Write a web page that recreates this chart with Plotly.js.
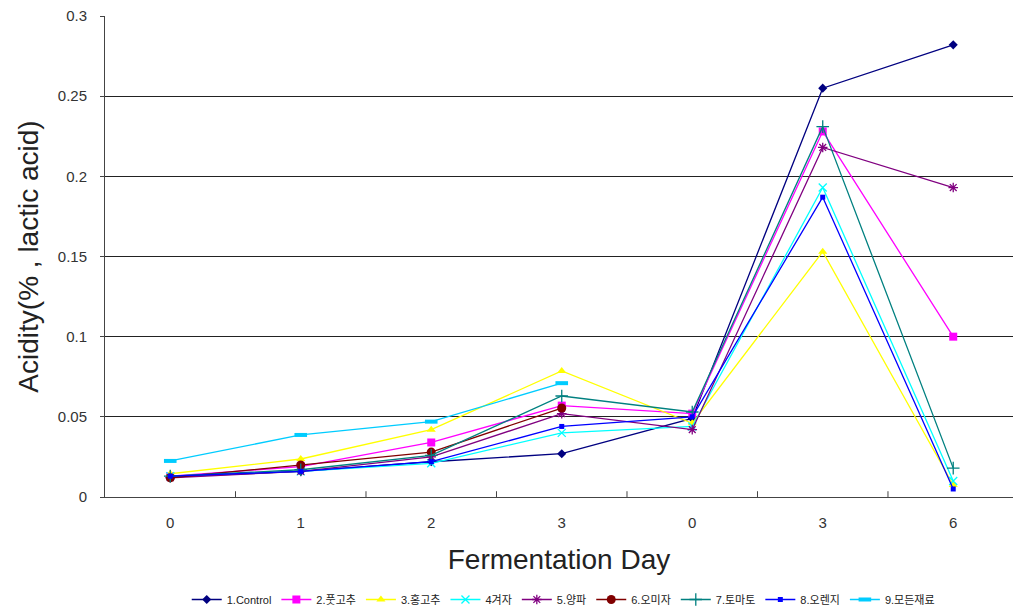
<!DOCTYPE html>
<html>
<head>
<meta charset="utf-8">
<script src="https://cdn.plot.ly/plotly-3.0.1.min.js"></script>
<style>html,body{margin:0;padding:0;background:#fff;}#chart{width:1013px;height:614px;}</style>
</head>
<body>
<div id="chart"></div>
<script>
const xPos = [0, 1, 2, 3, 4, 5, 6];
const tickLabels = ["0", "1", "2", "3", "0", "3", "6"];
const seriesNames = ["1.Control", "2.풋고추", "3.홍고추", "4겨자", "5.양파", "6.오미자", "7.토마토", "8.오렌지", "9.모든재료"];
const control   = [0.0125, 0.016, 0.022, 0.027, 0.049, 0.255, 0.282];
const putgochu  = [0.013, 0.019, 0.034, 0.057, 0.052, 0.228, 0.100];
const honggochu = [0.0145, 0.0237, 0.042, 0.0786, 0.046, 0.153, 0.0075];
const gyeoja    = [0.013, 0.016, 0.021, 0.040, 0.044, 0.193, 0.010];
const yangpa    = [0.012, 0.016, 0.025, 0.052, 0.042, 0.218, 0.193];
const omija     = [0.012, 0.020, 0.028, 0.0555, null, null, null];
const tomato    = [0.013, 0.017, 0.026, 0.063, 0.053, 0.231, 0.018];
const orange    = [0.013, 0.016, 0.022, 0.044, 0.050, 0.187, 0.005];
const allIngr   = [0.0225, 0.0387, 0.047, 0.071, null, null, null];

const values = [control, putgochu, honggochu, gyeoja, yangpa, omija, tomato, orange, allIngr];
const colors = ["#000080", "#FF00FF", "#FFFF00", "#00FFFF", "#800080", "#800000", "#008080", "#0000FF", "#00CCFF"];
const symbols = ["diamond", "square", "triangle-up", "x-thin", "asterisk", "circle", "cross-thin", "square", "line-ew"];
const sizes = [7, 8, 8, 8, 8, 9, 9, 5, 9];

const traces = values.map((v, i) => {
  const thin = ["x-thin", "asterisk", "cross-thin", "line-ew"].includes(symbols[i]);
  return {
    x: xPos, y: v, name: seriesNames[i], type: "scatter", mode: "lines+markers",
    line: {color: colors[i], width: 1.3},
    marker: {symbol: symbols[i], size: sizes[i], color: colors[i],
             line: {color: colors[i], width: symbols[i] === "line-ew" ? 4 : (thin ? 1.3 : 0)}},
    connectgaps: false
  };
});

const layout = {
  width: 1013, height: 614,
  margin: {l: 105, r: 0, t: 16, b: 117, autoexpand: false},
  paper_bgcolor: "#fff", plot_bgcolor: "#fff",
  font: {family: "Liberation Sans, Noto Sans CJK KR, sans-serif", color: "#222"},
  showlegend: true,
  legend: {orientation: "h", x: 0.556, xref: "container", xanchor: "center",
           y: -0.006, yref: "container", yanchor: "bottom",
           font: {size: 11, color: "#222"}, tracegroupgap: 0},
  xaxis: {
    range: [-0.5, 6.458], tickvals: xPos, ticktext: tickLabels,
    showgrid: false, zeroline: false, showline: true, linecolor: "#444", linewidth: 1,
    ticks: "", tickfont: {size: 15, color: "#333"}, ticklabelstandoff: 12,
    title: {text: "Fermentation Day", font: {size: 28, color: "#222"}, standoff: 19}
  },
  yaxis: {
    range: [0, 0.3], tickvals: [0, 0.05, 0.1, 0.15, 0.2, 0.25, 0.3],
    ticktext: ["0", "0.05", "0.1", "0.15", "0.2", "0.25", "0.3"],
    showgrid: true, gridcolor: "#222", gridwidth: 1, zeroline: false,
    showline: true, linecolor: "#444", linewidth: 1,
    ticks: "outside", ticklen: 4, tickcolor: "#444",
    tickfont: {size: 15, color: "#333"}, ticklabelstandoff: 10,
    title: {text: "Acidity(% , lactic acid)", font: {size: 28, color: "#222"}, standoff: 10}
  },
  shapes: [0.5, 1.5, 2.5, 3.5, 4.5, 5.5].map(b => ({
    type: "line", xref: "x", yref: "paper", x0: b, x1: b, y0: 0, y1: 0.012,
    line: {color: "#444", width: 1}
  }))
};

Plotly.newPlot("chart", traces, layout, {displayModeBar: false, staticPlot: true});
</script>
</body>
</html>
